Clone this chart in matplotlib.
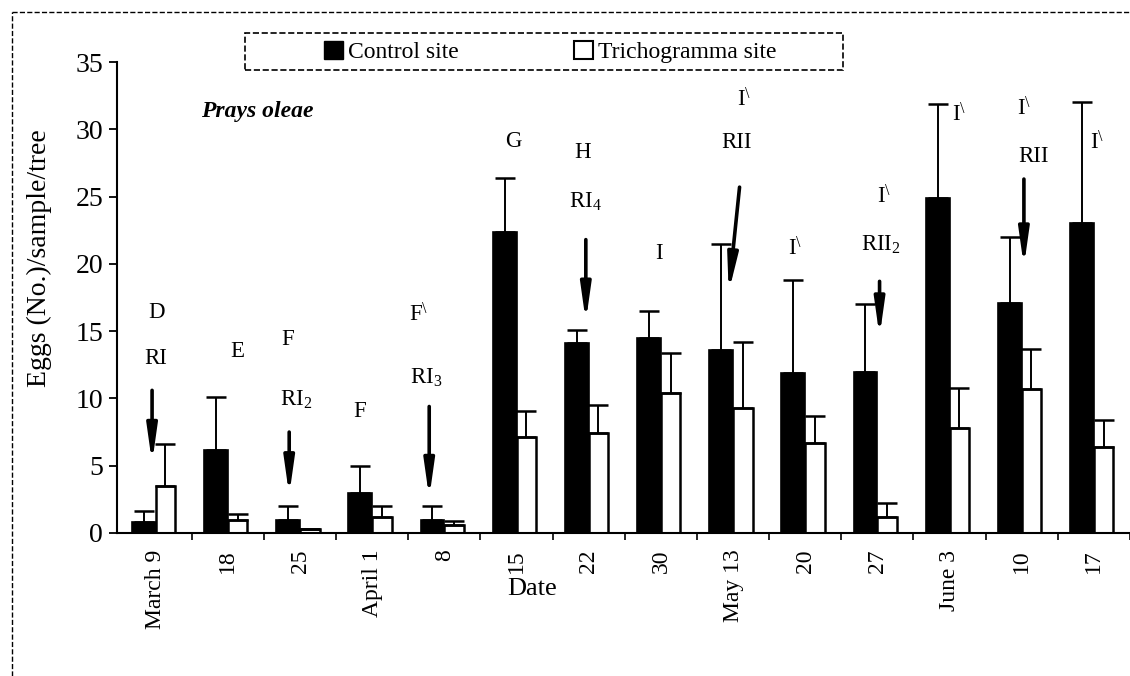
import numpy as np
import matplotlib
matplotlib.use("Agg")
import matplotlib.pyplot as plt
from matplotlib.patches import Patch, Rectangle
from matplotlib.lines import Line2D

plt.rcParams['font.family'] = ['Liberation Serif', 'DejaVu Serif']
plt.rcParams['mathtext.fontset'] = 'custom'
plt.rcParams['mathtext.rm'] = 'Liberation Serif'
plt.rcParams['mathtext.it'] = 'Liberation Serif:italic'
plt.rcParams['mathtext.bf'] = 'Liberation Serif:bold'

# sampling dates
dates = ['March 9', '18', '25', 'April 1', '8', '15', '22', '30',
         'May 13', '20', '27', 'June 3', '10', '17']

# eggs per sample per tree (mean) and upper error
control = [0.8, 6.2, 1.0, 3.0, 1.0, 22.4, 14.1, 14.5, 13.6, 11.9, 12.0, 24.9, 17.1, 23.0]
control_err = [0.8, 3.9, 1.0, 2.0, 1.0, 4.0, 1.0, 2.0, 7.9, 6.9, 5.0, 7.0, 4.9, 9.0]
tricho = [3.5, 1.0, 0.3, 1.2, 0.6, 7.1, 7.4, 10.4, 9.3, 6.7, 1.2, 7.8, 10.7, 6.4]
tricho_err = [3.1, 0.4, 0.0, 0.8, 0.3, 2.0, 2.1, 3.0, 4.9, 2.0, 1.0, 3.0, 3.0, 2.0]

# letters / release marks above the bars
ann_text = ['D', 'RI', 'E', 'F', r'$\mathrm{RI}_2$', 'F', r'$\mathrm{F}^{\backslash}$',
            r'$\mathrm{RI}_3$', 'G', 'H', r'$\mathrm{RI}_4$', 'I', r'$\mathrm{I}^{\backslash}$',
            'RII', r'$\mathrm{I}^{\backslash}$', r'$\mathrm{I}^{\backslash}$',
            r'$\mathrm{RII}_2$', r'$\mathrm{I}^{\backslash}$', r'$\mathrm{I}^{\backslash}$',
            'RII', r'$\mathrm{I}^{\backslash}$']
ann_x = [0.01, 0.0, 1.13, 1.83, 1.94, 2.83, 3.65, 3.75, 4.95, 5.91, 5.95, 6.98,
         8.15, 8.05, 8.86, 10.1, 10.04, 11.13, 12.03, 12.16, 13.05]
ann_y = [16.4, 13.0, 13.5, 14.4, 9.9, 9.0, 16.2, 11.5, 29.1, 28.3, 24.6, 20.8,
         32.2, 29.0, 21.1, 25.0, 21.4, 31.1, 31.5, 28.0, 29.0]

# release arrows: (x start, y start, x end, y end)
arrow_x0 = [-0.05, 1.85, 3.79, 5.96, 8.09, 10.03, 12.03]
arrow_y0 = [10.6, 7.5, 9.4, 21.8, 25.7, 18.7, 26.3]
arrow_x1 = [-0.05, 1.85, 3.79, 5.96, 7.94, 10.03, 12.03]
arrow_y1 = [5.2, 2.8, 2.6, 15.7, 17.9, 14.6, 19.8]

fig = plt.figure(figsize=(11.3, 6.76), dpi=100)
ax = fig.add_axes([117 / 1130, 1 - 533 / 676, 1 - 117 / 1130, (533 - 62) / 676])

x = np.arange(len(dates))
wb, ww = 0.33, 0.27
ax.bar(x - wb / 2, control, width=wb, color='black', edgecolor='black', linewidth=1.2,
       label='Control site', zorder=2)
ax.bar(x + ww / 2, tricho, width=ww, color='white', edgecolor='black', linewidth=1.8,
       label='Trichogramma site', zorder=2)
ax.errorbar(x - wb / 2, control, yerr=[np.zeros(len(x)), control_err], fmt='none',
            ecolor='black', elinewidth=1.4, capsize=7, capthick=1.8, zorder=3)
ax.errorbar(x + ww / 2, tricho, yerr=[np.zeros(len(x)), tricho_err], fmt='none',
            ecolor='black', elinewidth=1.4, capsize=7, capthick=1.8, zorder=3)

for t, tx, ty in zip(ann_text, ann_x, ann_y):
    ax.text(tx, ty, t, ha='center', va='center', fontsize=16.5)

for x0, y0, x1, y1 in zip(arrow_x0, arrow_y0, arrow_x1, arrow_y1):
    ax.annotate('', xy=(x1, y1), xytext=(x0, y0),
                arrowprops=dict(arrowstyle='-|>,head_length=0.85,head_width=0.12',
                                lw=2.6, color='black', shrinkA=0, shrinkB=0,
                                mutation_scale=25))

ax.text(1.41, 31.3, 'Prays oleae', fontsize=17, fontweight='bold', fontstyle='italic',
        ha='center', va='center')

ax.set_xlim(-0.536, 13.37)
ax.set_ylim(0, 35)
ax.set_yticks(np.arange(0, 36, 5))
ax.set_xticks(x)
ax.set_xticklabels(dates, rotation=90, fontsize=17)
ax.set_xticks(x + 0.5, minor=True)
ax.tick_params(axis='x', which='major', length=0, pad=12)
ax.tick_params(axis='x', which='minor', length=5, width=1.2, direction='out')
ax.tick_params(axis='y', labelsize=20, length=6, width=1.3, direction='out', pad=4)
for s in ['top', 'right']:
    ax.spines[s].set_visible(False)
for s in ['left', 'bottom']:
    ax.spines[s].set_linewidth(1.5)

ax.set_ylabel('Eggs (No.)/sample/tree', fontsize=20)
ax.yaxis.set_label_coords(-0.064, 0.584)
ax.set_xlabel('Date', fontsize=19)
ax.xaxis.set_label_coords(0.41, -0.095)

# legend in a dashed box
handles = [Patch(facecolor='black', edgecolor='black'),
           Patch(facecolor='white', edgecolor='black', linewidth=1.5)]
fig.legend(handles, ['Control site', 'Trichogramma site'], ncol=2, frameon=False,
           loc='center', bbox_to_anchor=(550 / 1130, 1 - 52 / 676), fontsize=17,
           handlelength=0.8, handleheight=0.8, handletextpad=0.2, columnspacing=4.9)
fig.patches.append(Rectangle((245 / 1130, 1 - 70 / 676), (843 - 245) / 1130, 37 / 676,
                             transform=fig.transFigure, fill=False, linestyle='--',
                             linewidth=1.2, edgecolor='black'))

# outer dashed frame (left and top visible)
fig.add_artist(Line2D([12 / 1130, 12 / 1130], [0, 1 - 12 / 676], transform=fig.transFigure,
                      color='black', linestyle='--', linewidth=1.0))
fig.add_artist(Line2D([12 / 1130, 1], [1 - 12 / 676, 1 - 12 / 676], transform=fig.transFigure,
                      color='black', linestyle='--', linewidth=1.0))

fig.savefig('out.png', dpi=100)
